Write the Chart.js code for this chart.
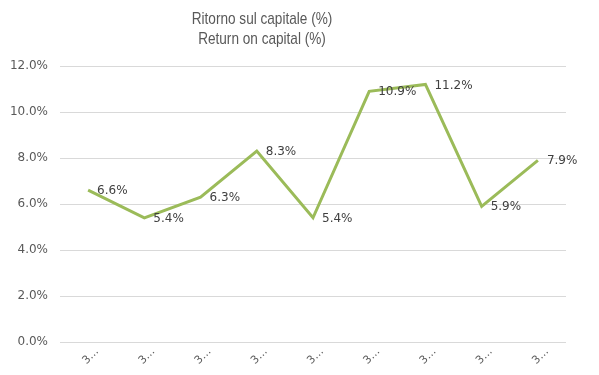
<!DOCTYPE html>
<html lang="it">
<head>
    <meta charset="UTF-8">
    <title>Ritorno sul capitale</title>
    <script src="https://cdn.jsdelivr.net/npm/chart.js"></script>
    <style>
        body { margin: 0; background: #fff; }
        #wrap { width: 599px; height: 375px; position: relative; }
    </style>
</head>
<body>
    <div id="wrap"><canvas id="myChart"></canvas></div>

    <script>
        const titleLines = ['Ritorno sul capitale (%)', 'Return on capital (%)'];
        const categories = ['3…', '3…', '3…', '3…', '3…', '3…', '3…', '3…', '3…'];
        const values = [6.6, 5.4, 6.3, 8.3, 5.4, 10.9, 11.2, 5.9, 7.9];

        const textColor = '#595959';

        // titolo disegnato a mano (in Excel non è centrato sul canvas), carattere stretto
        const titlePlugin = {
            id: 'titolo',
            afterDraw(chart) {
                const ctx = chart.ctx;
                ctx.save();
                ctx.fillStyle = textColor;
                ctx.font = '17px "Liberation Sans", Arial, sans-serif';
                ctx.textAlign = 'center';
                ctx.textBaseline = 'middle';
                ctx.translate(262, 0);
                ctx.scale(0.8, 1);
                ctx.fillText(titleLines[0], 0, 19);
                ctx.fillText(titleLines[1], 0, 39);
                ctx.restore();
            }
        };

        // etichette dei valori a destra dei punti
        const labelPlugin = {
            id: 'etichette',
            afterDatasetsDraw(chart) {
                const ctx = chart.ctx;
                const meta = chart.getDatasetMeta(0);
                ctx.save();
                ctx.fillStyle = '#404040';
                ctx.font = '12px "DejaVu Sans", sans-serif';
                ctx.textAlign = 'left';
                ctx.textBaseline = 'middle';
                meta.data.forEach((pt, i) => {
                    ctx.fillText(values[i].toFixed(1) + '%', pt.x + 9, pt.y + 1);
                });
                ctx.restore();
            }
        };

        const ctx = document.getElementById('myChart').getContext('2d');
        new Chart(ctx, {
            type: 'line',
            data: {
                labels: categories,
                datasets: [{
                    data: values,
                    borderColor: '#9bbb59',
                    borderWidth: 3,
                    pointRadius: 0,
                    tension: 0,
                    fill: false
                }]
            },
            options: {
                responsive: true,
                maintainAspectRatio: false,
                animation: false,
                layout: { padding: { top: 66, right: 33, left: 0, bottom: 0 } },
                plugins: {
                    legend: { display: false },
                    tooltip: { enabled: false }
                },
                scales: {
                    x: {
                        offset: true,
                        grid: { display: false },
                        border: { display: false },
                        ticks: {
                            color: textColor,
                            font: { size: 11, family: '"DejaVu Sans", sans-serif' },
                            minRotation: 45,
                            maxRotation: 45,
                            autoSkip: false,
                            padding: -5,
                            labelOffset: 9
                        },
                        afterFit: s => { s.height = 33; }
                    },
                    y: {
                        min: 0,
                        max: 12,
                        grid: { color: '#d9d9d9', drawTicks: false },
                        border: { display: false },
                        ticks: {
                            stepSize: 2,
                            color: textColor,
                            padding: 12,
                            font: { size: 12, family: '"DejaVu Sans", sans-serif' },
                            callback: v => v.toFixed(1) + '%'
                        },
                        afterFit: s => { s.width = 60; }
                    }
                }
            },
            plugins: [titlePlugin, labelPlugin]
        });
    </script>
</body>
</html>
